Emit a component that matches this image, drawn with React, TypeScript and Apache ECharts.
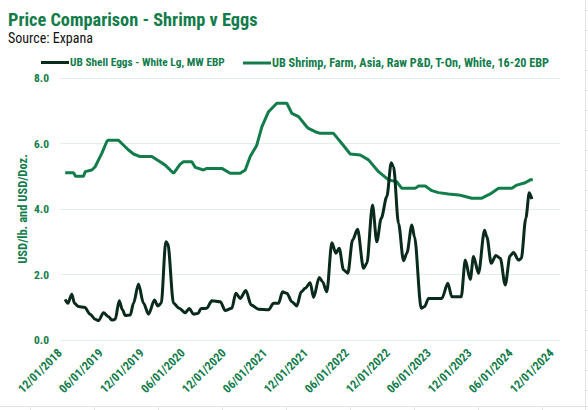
import React, { useEffect, useRef } from "react";
import * as echarts from "echarts";

// x values: months since 12/01/2018
const shrimpMonths = [0.76, 1.98, 2.27, 3.44, 3.69, 4.66, 5.15, 5.64, 6.12, 6.85, 7.03, 8.57, 9.05, 10.03, 10.76, 11.74, 13.44, 14.42, 15.4, 16.62, 17.6, 18.08, 19.3, 19.8, 21.01, 21.49, 23.69, 24.92, 26.38, 27.12, 27.85, 28.81, 29.55, 30.53, 31.74, 33.21, 33.94, 34.92, 36.13, 36.38, 37.36, 38.1, 40.04, 41.26, 42.49, 43.95, 45.17, 46.63, 48.1, 49.31, 50.04, 52.0, 52.49, 53.47, 54.44, 55.42, 56.88, 58.35, 59.33, 60.29, 61.76, 62.99, 64.2, 66.15, 66.88, 68.11, 68.84, 69.22];
const shrimpValues = [5.11, 5.11, 5.0, 5.0, 5.14, 5.19, 5.29, 5.5, 5.7, 6.06, 6.1, 6.1, 6.0, 5.8, 5.68, 5.6, 5.6, 5.47, 5.34, 5.09, 5.37, 5.44, 5.44, 5.27, 5.19, 5.24, 5.24, 5.09, 5.09, 5.19, 5.6, 5.95, 6.51, 6.97, 7.23, 7.23, 6.92, 6.82, 6.51, 6.46, 6.36, 6.31, 6.31, 6.0, 5.68, 5.65, 5.5, 5.14, 4.89, 4.83, 4.63, 4.63, 4.7, 4.7, 4.56, 4.5, 4.46, 4.43, 4.38, 4.33, 4.33, 4.46, 4.63, 4.63, 4.73, 4.8, 4.89, 4.89];

const eggMonths = [0.76, 1.14, 1.73, 2.12, 2.71, 3.59, 4.42, 5.15, 5.64, 6.37, 7.1, 7.58, 8.08, 8.67, 9.15, 9.55, 10.28, 10.76, 11.49, 12.23, 12.96, 13.84, 14.32, 14.82, 15.49, 15.78, 16.62, 17.45, 18.33, 18.92, 19.55, 20.18, 20.67, 21.49, 22.23, 23.46, 24.19, 25.15, 25.74, 26.38, 27.2, 27.99, 29.06, 30.53, 31.26, 31.99, 32.58, 33.21, 33.94, 34.67, 35.32, 35.9, 36.63, 37.12, 37.95, 38.43, 39.06, 39.8, 40.38, 40.88, 41.51, 42.14, 42.83, 43.56, 44.44, 44.92, 45.75, 46.38, 47.03, 47.85, 48.49, 48.83, 49.56, 50.29, 50.78, 51.51, 51.9, 52.88, 53.37, 53.95, 55.9, 56.78, 57.36, 58.74, 59.33, 60.06, 60.54, 61.27, 62.15, 62.49, 63.13, 63.81, 64.45, 65.18, 65.89, 66.4, 67.13, 67.53, 68.2, 68.7, 69.08];
const eggValues = [1.24, 1.12, 1.4, 1.12, 1.02, 1.0, 0.79, 0.63, 0.59, 0.83, 0.71, 0.61, 0.63, 1.2, 0.92, 0.75, 0.76, 1.12, 1.71, 1.12, 0.79, 1.22, 1.04, 1.12, 3.0, 2.95, 1.12, 0.97, 0.83, 0.96, 0.79, 0.81, 0.96, 0.97, 1.2, 1.17, 0.9, 0.97, 1.43, 1.27, 1.51, 1.07, 0.94, 0.92, 1.12, 1.12, 1.47, 1.43, 1.17, 1.04, 1.47, 1.58, 1.75, 1.3, 1.91, 1.78, 1.47, 2.97, 2.65, 2.8, 2.14, 2.04, 3.05, 3.38, 2.19, 2.34, 4.12, 3.0, 3.72, 4.38, 5.41, 5.29, 3.56, 2.42, 2.65, 3.51, 3.15, 0.97, 1.02, 1.27, 1.27, 1.73, 1.32, 1.32, 2.44, 1.85, 2.55, 2.04, 3.35, 3.15, 2.34, 2.58, 2.5, 1.68, 2.57, 2.67, 2.44, 2.49, 3.72, 4.5, 4.3];

const titleText = "Price Comparison - Shrimp v Eggs";
const sourceText = "Source: Expana";
const eggName = "UB Shell Eggs - White Lg, MW EBP";
const shrimpName = "UB Shrimp, Farm, Asia, Raw P&D, T-On, White, 16-20 EBP";
const yAxisName = "USD/lb. and USD/Doz.";

const GREEN = "#127c4b";
const DARK = "#0a2b1c";
const FONT = "'Liberation Sans Narrow', 'Roboto Condensed', 'Liberation Sans', Arial, sans-serif";

function monthLabel(v: number): string {
  if (Math.abs(v % 6) > 1e-6) return "";
  if (v % 12 === 0) return "12/01/" + (2018 + v / 12);
  return "06/01/" + (2019 + (v - 6) / 12);
}

export default function App() {
  const ref = useRef<HTMLDivElement>(null);
  useEffect(() => {
    if (!ref.current) return;
    const chart = echarts.init(ref.current, null, { renderer: "svg" });
    const colTicks = [30, 94, 158, 222, 286, 350, 414, 478, 542];
    const rowTicks: number[] = [];
    for (let y = 10; y < 405; y += 20) rowTicks.push(y);
    const legendBase = {
      top: 52,
      icon: "rect",
      itemWidth: 28,
      itemHeight: 3,
      itemGap: 10,
    };
    chart.setOption({
      animation: false,
      backgroundColor: "#ffffff",
      title: {
        text: titleText,
        subtext: sourceText,
        left: 3,
        top: 5,
        itemGap: 3,
        textStyle: { fontFamily: FONT, fontSize: 18.3, fontWeight: "bold", color: GREEN },
        subtextStyle: { fontFamily: FONT, fontSize: 14, color: "#111" },
      },
      legend: [
        {
          ...legendBase,
          left: 36,
          data: [{ name: eggName, itemStyle: { color: DARK } }],
          textStyle: { fontFamily: FONT, fontSize: 11.3, fontWeight: "bold", color: GREEN, padding: [0, 0, 0, -4] },
        },
        {
          ...legendBase,
          left: 238,
          data: [{ name: shrimpName, itemStyle: { color: GREEN } }],
          textStyle: { fontFamily: FONT, fontSize: 12.2, fontWeight: "bold", color: GREEN, padding: [0, 0, 0, -4] },
        },
      ],
      grid: { left: 60, right: 28, top: 78, bottom: 70, containLabel: false },
      xAxis: {
        type: "value",
        min: 0,
        max: 73.2,
        interval: 6,
        axisLine: { show: false },
        axisTick: { show: false },
        splitLine: { show: false },
        axisLabel: {
          rotate: 45,
          margin: 11,
          showMaxLabel: false,
          formatter: (v: number) => monthLabel(v),
          fontFamily: FONT,
          fontSize: 12,
          fontWeight: "bold",
          color: GREEN,
        },
      },
      yAxis: {
        type: "value",
        min: 0,
        max: 8,
        interval: 2,
        axisLine: { show: false },
        axisTick: { show: false },
        splitLine: { lineStyle: { color: "#e2eee6", width: 1 } },
        axisLabel: {
          formatter: (v: number) => v.toFixed(1),
          margin: 11,
          fontFamily: FONT,
          fontSize: 11.5,
          fontWeight: "bold",
          color: GREEN,
        },
      },
      series: [
        {
          name: eggName,
          type: "line",
          data: eggMonths.map((m, i) => [m, eggValues[i]]),
          showSymbol: false,
          smooth: 0.3,
          smoothMonotone: "x",
          lineStyle: { color: DARK, width: 3 },
          itemStyle: { color: DARK },
          z: 3,
        },
        {
          name: shrimpName,
          type: "line",
          data: shrimpMonths.map((m, i) => [m, shrimpValues[i]]),
          showSymbol: false,
          smooth: false,
          lineStyle: { color: GREEN, width: 3 },
          itemStyle: { color: GREEN },
          z: 2,
        },
      ],
      graphic: [
        {
          type: "text",
          x: 22,
          y: 209,
          rotation: Math.PI / 2,
          silent: true,
          style: {
            text: yAxisName,
            fill: GREEN,
            font: `bold 12.5px ${FONT}`,
            align: "center",
            verticalAlign: "middle",
          },
        },
        { type: "line", shape: { x1: 0, y1: 406.5, x2: 588, y2: 406.5 }, style: { stroke: "#e4e4e4", lineWidth: 1 }, silent: true },
        { type: "line", shape: { x1: 585.5, y1: 0, x2: 585.5, y2: 410 }, style: { stroke: "#e4e4e4", lineWidth: 1 }, silent: true },
        ...colTicks.map((x) => ({ type: "line", shape: { x1: x + 0.5, y1: 406, x2: x + 0.5, y2: 410 }, style: { stroke: "#e4e4e4", lineWidth: 1 }, silent: true })),
        ...rowTicks.map((y) => ({ type: "line", shape: { x1: 585, y1: y + 0.5, x2: 588, y2: y + 0.5 }, style: { stroke: "#e4e4e4", lineWidth: 1 }, silent: true })),
      ],
    });
    return () => chart.dispose();
  }, []);
  return <div ref={ref} style={{ width: 588, height: 410, position: "absolute", left: 0, top: 0 }} />;
}
